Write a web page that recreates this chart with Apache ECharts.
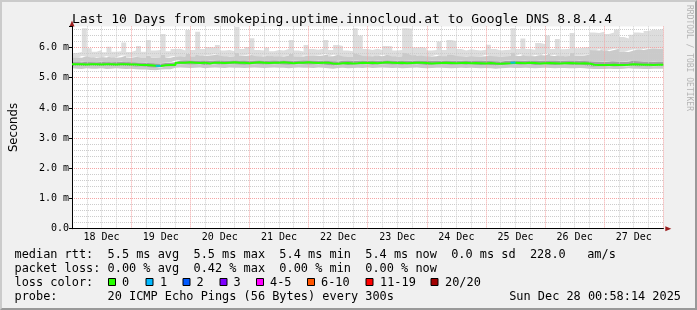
<!DOCTYPE html>
<html><head><meta charset="utf-8">
<script src="https://cdn.jsdelivr.net/npm/echarts@6/dist/echarts.min.js"></script>
<style>
html,body{margin:0;padding:0;background:#f0f0f0;}
#wrap{position:relative;width:697px;height:310px;}
#chart{width:697px;height:310px;}
#frame{position:absolute;left:0;top:0;width:697px;height:310px;box-sizing:border-box;border-top:2px solid #cbcbcb;border-left:2px solid #cbcbcb;border-right:2px solid #999;border-bottom:2px solid #999;pointer-events:none;}
</style></head><body>
<div id="wrap"><div id="chart"></div><div id="frame"></div></div>
<script>
// ---- data (ms), one sample per 2 hours from Dec 18 00:00 ----
const titleText = 'Last 10 Days from smokeping.uptime.innocloud.at to Google DNS 8.8.4.4';
const dayLabels = ['18 Dec','19 Dec','20 Dec','21 Dec','22 Dec','23 Dec','24 Dec','25 Dec','26 Dec','27 Dec'];
const stepHours = 2;

const median = [
5.45,5.45,5.44,5.45,5.45,5.44,5.45,5.45,5.44,5.45,5.45,5.44,5.44,
5.42,5.42,5.41,5.40,5.39,5.41,5.42,5.42,
5.50,5.50,5.51,5.50,5.49,5.50,5.47,5.50,5.50,5.49,5.50,5.51,5.50,5.50,5.48,5.50,5.51,5.50,5.49,5.50,5.50,5.51,5.50,5.48,5.50,5.50,5.51,
5.50,5.49,5.50,5.50,5.47,5.46,5.48,5.49,5.47,5.48,5.50,5.49,5.50,5.48,5.50,5.51,5.50,5.49,5.50,5.48,5.49,5.50,5.50,5.49,5.47,5.48,5.49,5.50,5.49,5.48,5.49,5.50,
5.48,5.49,5.48,5.47,5.49,5.47,5.46,5.47,5.48,5.50,5.49,5.48,5.50,5.49,5.47,5.48,5.49,5.48,5.47,5.48,5.49,5.48,5.47,5.48,5.47,
5.43,5.42,5.42,5.42,5.43,5.42,5.42,5.43,5.45,5.44,5.43,5.43,5.42,5.43,5.43];

const q3 = [
5.52,5.51,5.53,5.52,5.51,5.52,5.53,5.51,5.52,5.52,5.53,5.51,5.52,
5.50,5.49,5.50,5.48,5.47,5.49,5.50,5.51,
5.57,5.58,5.58,5.57,5.57,5.58,5.56,5.57,5.58,5.57,5.57,5.58,5.57,5.58,5.56,5.57,5.58,5.57,5.57,5.58,5.57,5.58,5.57,5.56,5.57,5.58,5.58,
5.57,5.56,5.57,5.58,5.55,5.54,5.56,5.56,5.55,5.56,5.57,5.56,5.57,5.56,5.57,5.58,5.57,5.56,5.57,5.56,5.56,5.57,5.57,5.56,5.55,5.56,5.56,5.57,5.56,5.56,5.56,5.57,
5.56,5.56,5.55,5.55,5.56,5.55,5.54,5.55,5.56,5.57,5.56,5.56,5.57,5.56,5.55,5.56,5.56,5.55,5.55,5.56,5.56,5.55,5.55,5.56,5.55,
5.54,5.53,5.53,5.54,5.55,5.53,5.53,5.54,5.56,5.55,5.54,5.54,5.53,5.54,5.54];

const q1 = [
5.39,5.40,5.39,5.39,5.40,5.39,5.39,5.40,5.39,5.39,5.40,5.39,5.39,
5.37,5.37,5.36,5.35,5.34,5.36,5.37,5.37,
5.44,5.45,5.45,5.44,5.44,5.45,5.42,5.44,5.45,5.44,5.44,5.45,5.45,5.44,5.43,5.44,5.45,5.45,5.44,5.44,5.45,5.45,5.44,5.43,5.44,5.45,5.45,
5.44,5.44,5.45,5.44,5.42,5.41,5.43,5.44,5.42,5.43,5.44,5.44,5.45,5.43,5.44,5.45,5.45,5.44,5.44,5.43,5.44,5.44,5.45,5.44,5.42,5.43,5.44,5.44,5.44,5.43,5.44,5.44,
5.43,5.44,5.43,5.42,5.43,5.42,5.41,5.42,5.43,5.44,5.44,5.43,5.44,5.44,5.42,5.43,5.44,5.43,5.42,5.43,5.44,5.43,5.42,5.43,5.42,
5.38,5.37,5.37,5.37,5.38,5.37,5.37,5.38,5.40,5.39,5.38,5.38,5.37,5.38,5.38];

const low = [
5.31,5.30,5.29,5.31,5.30,5.30,5.31,5.29,5.30,5.31,5.30,5.29,5.30,
5.28,5.27,5.27,5.26,5.25,5.27,5.28,5.28,
5.33,5.34,5.33,5.32,5.33,5.34,5.31,5.33,5.34,5.33,5.32,5.34,5.33,5.33,5.32,5.33,5.34,5.33,5.32,5.33,5.34,5.33,5.33,5.31,5.33,5.34,5.33,
5.33,5.32,5.34,5.33,5.31,5.30,5.32,5.33,5.31,5.32,5.33,5.32,5.34,5.32,5.33,5.34,5.33,5.32,5.33,5.31,5.32,5.33,5.34,5.32,5.31,5.32,5.33,5.33,5.32,5.31,5.32,5.33,
5.32,5.33,5.32,5.31,5.32,5.31,5.30,5.31,5.32,5.33,5.32,5.32,5.33,5.32,5.31,5.32,5.33,5.32,5.31,5.32,5.32,5.31,5.31,5.32,5.31,
5.30,5.29,5.29,5.29,5.30,5.29,5.29,5.30,5.31,5.30,5.30,5.29,5.29,5.30,5.30];

const p90 = [
5.68,5.66,5.72,5.70,5.66,5.69,5.67,5.72,5.66,5.68,5.74,5.66,5.69,
5.70,5.65,5.74,5.67,5.68,5.75,5.66,5.70,
5.72,5.70,5.80,5.71,5.78,5.72,5.74,5.75,5.78,5.73,5.70,5.71,5.82,5.72,5.74,5.78,5.72,5.70,5.74,5.71,5.72,5.70,5.73,5.80,5.71,5.70,5.74,
5.73,5.72,5.74,5.78,5.71,5.76,5.75,5.70,5.69,5.82,5.78,5.72,5.71,5.73,5.71,5.76,5.75,5.70,5.71,5.84,5.80,5.74,5.75,5.73,5.70,5.71,5.76,5.71,5.78,5.77,5.72,5.70,
5.72,5.71,5.70,5.71,5.76,5.72,5.70,5.71,5.72,5.84,5.72,5.78,5.72,5.71,5.75,5.74,5.80,5.72,5.76,5.71,5.72,5.82,5.73,5.74,5.76,
5.92,5.90,5.94,5.88,5.92,5.96,5.86,5.85,5.90,5.94,5.92,5.95,5.98,5.96,5.97];

const high = [
5.82,5.85,6.64,5.98,5.86,5.92,5.84,6.03,5.86,5.88,
6.17,5.85,5.90,6.05,5.86,6.25,5.90,5.92,6.45,5.88,
5.95,5.96,5.90,6.58,5.92,6.52,5.95,6.02,6.00,6.08,
5.90,5.92,5.88,6.70,5.95,6.02,6.31,5.92,5.90,6.00,
5.88,5.92,5.90,5.95,6.25,5.90,5.87,6.08,5.95,5.93,
5.96,6.25,5.92,6.08,6.05,5.90,5.88,6.64,6.40,5.95,
5.92,5.96,5.92,6.05,6.04,5.90,5.92,6.64,6.62,6.00,
6.02,5.98,5.90,5.92,6.20,5.92,6.25,6.22,5.95,5.90,
5.94,5.92,5.90,5.93,6.09,5.95,5.90,5.92,5.93,6.64,
5.95,6.30,5.95,5.93,6.15,6.12,6.40,5.95,6.28,5.94,
5.96,6.48,5.98,6.00,6.02,6.50,6.48,6.52,6.45,6.50,
6.60,6.35,6.30,6.42,6.50,6.48,6.55,6.60,6.58,6.62];

// samples with 1/20 packet loss (sample index, lost pings)
const lossIndex = [17, 89];
const lossCount = [1, 1];

const lossLabels = ['0','1','2','3','4-5','6-10','11-19','20/20'];
const lossColors = ['#26ff00','#00b8ff','#0059ff','#7e00ff','#ff00ff','#ff5500','#ff0000','#a10000'];

const statLines = [
  'median rtt:  5.5 ms avg  5.5 ms max  5.4 ms min  5.4 ms now  0.0 ms sd  228.0   am/s',
  'packet loss: 0.00 % avg  0.42 % max  0.00 % min  0.00 % now',
  'loss color:',
  'probe:       20 ICMP Echo Pings (56 Bytes) every 300s'
];
const dateText = 'Sun Dec 28 00:58:14 2025';
const watermark = 'RRDTOOL / TOBI OETIKER';

// ---- build ----
const MONO = '"DejaVu Sans Mono", monospace';
const HOUR = 3600000;
const yMax = 6.7;
function pts(arr){ const d = arr.map((v,i)=>[i*stepHours*HOUR, v]); d.push([arr.length*stepHours*HOUR, arr[arr.length-1]]); return d; }
function diff(a,b){ return a.map((v,i)=> Math.round((v-b[i])*1000)/1000); }

const LIGHT='#dddddd', MID='#cacaca', DARK='#a2a2a2';
function band(name, arr, color){
  return {name, type:'line', step:'end', stack:'smoke', symbol:'none', silent:true, z:2,
    data: pts(arr), lineStyle:{width:0, opacity:0},
    areaStyle: color ? {color, opacity:1} : undefined};
}
const series = [
  band('low', low, null),
  band('b1', diff(q1, low), MID),
  band('b2', diff(q3, q1), DARK),
  band('b3', diff(p90, q3), MID),
  band('b4', diff(high, p90), LIGHT),
  {name:'median', type:'line', step:'end', symbol:'none', silent:true, z:6,
    data: pts(median), lineStyle:{color:lossColors[0], width:2}},
  {name:'loss', type:'scatter', symbol:'rect', symbolSize:[5,2], silent:true, z:7,
    data: lossIndex.map((idx,k)=>({value:[(idx+0.5)*stepHours*HOUR, median[idx]], itemStyle:{color:lossColors[lossCount[k]]}}))}
];

const RED='#f4a4a4', GRAY='#cccccc';
const minorX = []; for (let i=0;i<=42;i++) minorX.push(i%4===0 ? 'transparent' : GRAY);
const majorX = []; for (let i=0;i<=11;i++) majorX.push(i===0 ? 'transparent' : RED);
const minorY = []; for (let i=0;i<=40;i++) minorY.push((i%5===0 || i*0.2>yMax) ? 'transparent' : GRAY);
const majorY = []; for (let i=0;i<=9;i++) majorY.push((i>=1 && i<=6) ? RED : 'transparent');

const graphics = [];
graphics.push({type:'text', x:689, y:5, rotation:-Math.PI/2, silent:true,
  style:{text:watermark, font:'8px '+MONO, fill:'#b4b4b4', align:'left', verticalAlign:'middle', textAlign:'left', textVerticalAlign:'middle'}});
const rowY = [254.8, 269.0, 283.2, 297.4];
statLines.forEach((t,i)=>{
  graphics.push({type:'text', x:14.5, y:rowY[i], silent:true,
    style:{text:t, font:'11.9px '+MONO, fill:'#000', align:'left', verticalAlign:'middle', textAlign:'left', textVerticalAlign:'middle'}});
});
graphics.push({type:'text', x:681, y:rowY[3], silent:true,
  style:{text:dateText, font:'11.9px '+MONO, fill:'#000', align:'right', verticalAlign:'middle', textAlign:'right', textVerticalAlign:'middle'}});
const boxX = [108, 145.5, 182.5, 219.5, 256, 307, 365.5, 430.5];
const labX = [122, 160, 196.5, 233.5, 270, 321, 380, 445];
lossLabels.forEach((lab,i)=>{
  graphics.push({type:'rect', silent:true, shape:{x:boxX[i]+0.5, y:278.5, width:7, height:7},
    style:{fill:lossColors[i], stroke:'#000', lineWidth:1}});
  graphics.push({type:'text', x:labX[i], y:rowY[2], silent:true,
    style:{text:lab, font:'11.9px '+MONO, fill:'#000', align:'left', verticalAlign:'middle', textAlign:'left', textVerticalAlign:'middle'}});
});

const option = {
  animation:false,
  backgroundColor:'#f0f0f0',
  title:{text:titleText, left:72, top:13, padding:0,
    textStyle:{fontFamily:MONO, fontSize:13, fontWeight:'normal', color:'#000', lineHeight:14}},
  grid:{left:63.3, top:26.4, width:600, height:202.3, show:true, backgroundColor:'#fff', borderWidth:0},
  xAxis:[
    {type:'time', min:0, max:240*HOUR, position:'bottom', z:5,
      axisLine:{show:true, onZero:false, lineStyle:{color:'#000', width:1}},
      axisTick:{show:false}, axisLabel:{show:false}, splitLine:{show:false}},
    {type:'value', min:0, max:240, interval:6, position:'bottom', z:3,
      axisLine:{show:true, onZero:false, symbol:['none','triangle'], symbolSize:[5,6], symbolOffset:[0,5], lineStyle:{color:'#9b1c1c', width:1}},
      axisTick:{show:false}, axisLabel:{show:false},
      splitLine:{show:true, lineStyle:{color:minorX, type:'dotted', width:1}}},
    {type:'category', data:dayLabels, boundaryGap:true, position:'bottom', z:4,
      axisLine:{show:false}, axisTick:{show:false},
      axisLabel:{show:true, interval:0, fontFamily:MONO, fontSize:10, color:'#000', margin:4},
      splitLine:{show:true, interval:0, lineStyle:{color:majorX, type:'dotted', width:1}}}
  ],
  yAxis:[
    {type:'value', min:0, max:yMax, interval:1, position:'left', z:5,
      name:'Seconds', nameLocation:'middle', nameGap:52, nameRotate:90,
      nameTextStyle:{fontFamily:'"DejaVu Sans", sans-serif', fontSize:11.7, color:'#000'},
      axisLine:{show:true, onZero:false, lineStyle:{color:'#000', width:1}},
      axisTick:{show:true, length:3, lineStyle:{color:'#000'}},
      axisLabel:{fontFamily:MONO, fontSize:10, color:'#000', margin:3,
        formatter:v=> (Math.abs(v-Math.round(v))>1e-6) ? '' : (v===0 ? '0.0' : v.toFixed(1)+' m')},
      splitLine:{show:true, lineStyle:{color:majorY, type:'dotted', width:1}}},
    {type:'value', min:0, max:yMax, interval:0.2, position:'left', z:3,
      axisLine:{show:true, onZero:false, symbol:['none','triangle'], symbolSize:[5,6], symbolOffset:[0,3], lineStyle:{color:'#9b1c1c', width:1}},
      axisTick:{show:false}, axisLabel:{show:false},
      splitLine:{show:true, lineStyle:{color:minorY, type:'dotted', width:1}}}
  ],
  graphic:{elements:graphics},
  series
};
const chart = echarts.init(document.getElementById('chart'), null, {renderer:'canvas'});
chart.setOption(option);
</script>
</body></html>
